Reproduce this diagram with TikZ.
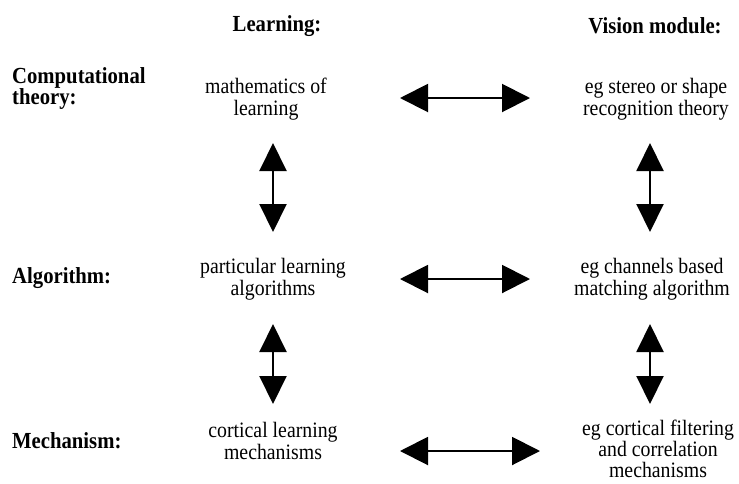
\documentclass[tikz,border=0pt]{standalone}
\usepackage{fontspec}
\setmainfont[FakeStretch=0.9]{Liberation Serif}
\usetikzlibrary{arrows.meta}
\begin{document}
\begin{tikzpicture}[x=1pt,y=-1pt,
  txt/.style={font=\fontsize{22}{22}\selectfont, align=center, inner sep=0pt},
  head/.style={font=\fontsize{23}{22}\selectfont\bfseries, inner sep=0pt},
  rowlab/.style={font=\fontsize{23}{21}\selectfont\bfseries, align=left, anchor=west, inner sep=0pt},
  dbl/.style={line width=2pt, {Triangle[length=28pt,width=28pt]}-{Triangle[length=28pt,width=28pt]}},
  dblv/.style={line width=2pt, {Triangle[length=28pt,width=27pt]}-{Triangle[length=28pt,width=27pt]}}]
\useasboundingbox (0,0) rectangle (739,483);

% column headings
\node[head] (hl) at (277,26) {Learning:};
\node[head] (hv) at (655,26) {Vision module:};

% row labels
\node[rowlab] (rc) at (12,88) {Computational\\theory:};
\node[rowlab] (ra) at (12,278) {Algorithm:};
\node[rowlab] (rm) at (12,441) {Mechanism:};

% learning column
\node[txt] (l1) at (266,99) {mathematics of\\learning};
\node[txt] (l2) at (273,279) {particular learning\\algorithms};
\node[txt] (l3) at (273,441) {cortical learning\\mechanisms};

% vision column
\node[txt] (v1) at (656,99) {eg stereo or shape\\recognition theory};
\node[txt] (v2) at (652,279) {eg channels based\\matching algorithm};
\node[txt, font=\fontsize{22}{21}\selectfont] (v3) at (658,449) {eg cortical filtering\\and correlation\\mechanisms};

% arrow end points
\coordinate (a1l) at (400,98);  \coordinate (a1r) at (530,98);
\coordinate (a2l) at (400,279); \coordinate (a2r) at (530,279);
\coordinate (a3l) at (400,451); \coordinate (a3r) at (540,451);
\coordinate (b1t) at (273,143); \coordinate (b1b) at (273,232);
\coordinate (b2t) at (273,324); \coordinate (b2b) at (273,404);
\coordinate (c1t) at (650,143); \coordinate (c1b) at (650,232);
\coordinate (c2t) at (650,324); \coordinate (c2b) at (650,404);

% horizontal links
\draw[dbl] (a1l) -- (a1r);
\draw[dbl] (a2l) -- (a2r);
\draw[dbl] (a3l) -- (a3r);
% vertical links
\draw[dblv] (b1t) -- (b1b);
\draw[dblv] (b2t) -- (b2b);
\draw[dblv] (c1t) -- (c1b);
\draw[dblv] (c2t) -- (c2b);
\end{tikzpicture}
\end{document}
